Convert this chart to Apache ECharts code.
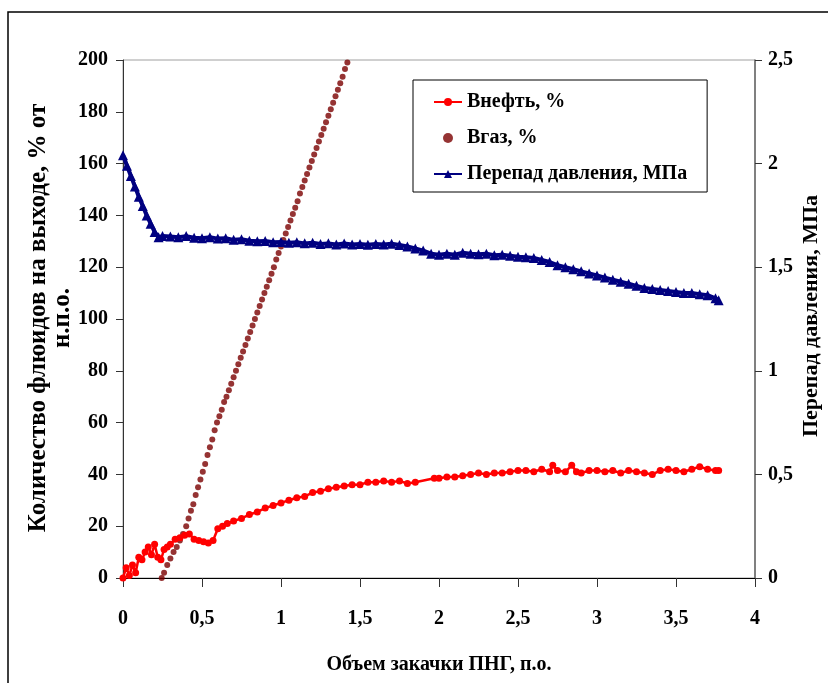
<!DOCTYPE html>
<html>
<head>
<meta charset="utf-8">
<script src="https://cdn.jsdelivr.net/npm/echarts@6/dist/echarts.min.js"></script>
<style>html,body{margin:0;padding:0;background:#fff}#c{width:828px;height:683px}</style>
</head>
<body>
<div id="c"></div>
<script>
// ---- Data ----
const seriesNames = ['Внефть, %', 'Вгаз, %', 'Перепад давления, МПа'];
const xTitle = 'Объем закачки ПНГ, п.о.';
const yLeftTitle = 'Количество флюидов на выходе, % от\nн.п.о.';
const yRightTitle = 'Перепад давления, МПа';

// Внефть, % (x, value)
const oilX = [0,0.02,0.04,0.06,0.08,0.1,0.12,0.14,0.16,0.18,0.2,0.22,0.24,0.26,0.28,0.3,0.33,0.36,0.39,0.42,0.45,0.48,0.51,0.54,0.57,0.6,0.63,0.66,0.7,0.75,0.8,0.85,0.9,0.95,1.0,1.05,1.1,1.15,1.2,1.25,1.3,1.35,1.4,1.45,1.5,1.55,1.6,1.65,1.7,1.75,1.8,1.85,1.97,2.0,2.05,2.1,2.15,2.2,2.25,2.3,2.35,2.4,2.45,2.5,2.55,2.6,2.65,2.7,2.72,2.75,2.8,2.84,2.87,2.9,2.95,3.0,3.05,3.1,3.15,3.2,3.25,3.3,3.35,3.4,3.45,3.5,3.55,3.6,3.65,3.7,3.75,3.77];
const oilY = [0,4,1,5,2,8,7,10,12,9,13,8,7,11,12,13,15,15.5,16.5,17,15,14.5,14,13.5,14.5,19,20,21,22,23,24.5,25.5,27,28,29,30,31,31.5,33,33.5,34.5,35,35.5,36,36,37,37,37.5,37,37.5,36.5,37,38.5,38.5,39,39,39.5,40,40.5,40,40.5,40.5,41,41.5,41.5,41,42,41,43.5,41.5,41,43.5,41,40.5,41.5,41.5,41,41.5,40.5,41.5,41,40.5,40,41.5,42,41.5,41,42,43,42,41.5,41.5];

// Вгаз, % (x, value)
const gasX = [0.245,0.26,0.28,0.3,0.32,0.34,0.36,0.38,0.4,0.415,0.43,0.445,0.46,0.475,0.49,0.505,0.52,0.535,0.55,0.565,0.58,0.595,0.61,0.625,0.64,0.655,0.67,0.685,0.7,0.715,0.73,0.745,0.76,0.775,0.79,0.805,0.82,0.835,0.85,0.865,0.88,0.895,0.91,0.925,0.94,0.955,0.97,0.985,1.0,1.015,1.03,1.045,1.06,1.075,1.09,1.105,1.12,1.135,1.15,1.165,1.18,1.195,1.21,1.225,1.24,1.255,1.27,1.285,1.3,1.315,1.33,1.345,1.36,1.375,1.39,1.405,1.42];
const gasY = [0,2,5,7.5,10,12,14.5,17,20,23,26,28.5,32,35,38,41,44,47.5,50.5,53.5,57,60,62.5,65,68,70,72.5,75,77.5,80,82.5,85,87.5,90,92.5,95,97.5,100,102.5,105,107.5,110,112.5,115,117.5,120,123,125.5,128,130.5,133,135.5,138,140.5,143,145.5,148.5,151,153.5,156,158.5,161,163.5,166,168.5,171,173.5,176,178.5,181,183.5,186,188.5,191,193.5,196.5,199];

// Перепад давления, МПа (x, value)
const dpX = [0,0.025,0.05,0.075,0.1,0.125,0.15,0.175,0.2,0.225,0.25,0.3,0.35,0.4,0.45,0.5,0.55,0.6,0.65,0.7,0.75,0.8,0.85,0.9,0.95,1.0,1.05,1.1,1.15,1.2,1.25,1.3,1.35,1.4,1.45,1.5,1.55,1.6,1.65,1.7,1.75,1.8,1.85,1.9,1.95,2.0,2.05,2.1,2.15,2.2,2.25,2.3,2.35,2.4,2.45,2.5,2.55,2.6,2.65,2.7,2.75,2.8,2.85,2.9,2.95,3.0,3.05,3.1,3.15,3.2,3.25,3.3,3.35,3.4,3.45,3.5,3.55,3.6,3.65,3.7,3.75,3.77];
const dpY = [2.04,1.99,1.94,1.89,1.84,1.795,1.75,1.71,1.67,1.645,1.65,1.648,1.645,1.65,1.642,1.64,1.645,1.638,1.64,1.632,1.635,1.628,1.625,1.627,1.62,1.622,1.618,1.62,1.615,1.618,1.612,1.615,1.61,1.614,1.61,1.612,1.608,1.612,1.61,1.613,1.607,1.6,1.59,1.58,1.565,1.56,1.565,1.56,1.57,1.565,1.562,1.565,1.558,1.56,1.555,1.55,1.548,1.545,1.535,1.525,1.51,1.5,1.49,1.48,1.47,1.46,1.45,1.44,1.43,1.42,1.41,1.4,1.395,1.39,1.385,1.38,1.375,1.375,1.37,1.365,1.35,1.34];

const pair = (xs, ys) => xs.map((x, i) => [x, ys[i]]);
const fmt = v => String(v).replace('.', ',');
const FONT = 'Liberation Serif';
const txt = {fontFamily: FONT, fontWeight: 'bold', fontSize: 20, color: '#000'};

const chart = echarts.init(document.getElementById('c'), null, {renderer: 'canvas'});
chart.setOption({
  animation: false,
  backgroundColor: '#fff',
  graphic: [{
    type: 'rect', shape: {x: 8, y: 12, width: 1000, height: 1000},
    style: {fill: 'none', stroke: '#000', lineWidth: 1.5}, silent: true, z: -1
  }, {
    type: 'text', x: 51, y: 318, rotation: Math.PI / 2, silent: true,
    style: {text: yLeftTitle, fontFamily: FONT, fontWeight: 'bold', fontSize: 25, lineHeight: 24,
            fill: '#000', align: 'center', verticalAlign: 'middle'}
  }, {
    type: 'text', x: 811, y: 316, rotation: Math.PI / 2, silent: true,
    style: {text: yRightTitle, fontFamily: FONT, fontWeight: 'bold', fontSize: 22,
            fill: '#000', align: 'center', verticalAlign: 'middle'}
  }],
  grid: {left: 123, right: 73, top: 60, bottom: 105, show: true, borderColor: '#a0a0a0', borderWidth: 1, backgroundColor: 'transparent'},
  legend: {
    orient: 'vertical', left: 413, top: 80,
    padding: [12, 20, 8, 20], itemGap: 16, itemWidth: 28, itemHeight: 10,
    backgroundColor: '#fff', borderColor: '#000', borderWidth: 1,
    textStyle: Object.assign({}, txt),
    data: seriesNames
  },
  xAxis: {
    type: 'value', min: 0, max: 4, interval: 0.5,
    name: xTitle, nameLocation: 'middle', nameGap: 77, nameTextStyle: Object.assign({}, txt),
    axisLine: {lineStyle: {color: '#000', width: 1}},
    axisTick: {show: true, length: 9, lineStyle: {color: '#333'}},
    axisLabel: Object.assign({margin: 31, formatter: fmt}, txt),
    splitLine: {show: false}
  },
  yAxis: [{
    type: 'value', min: 0, max: 200, interval: 20,
    axisLine: {show: true, lineStyle: {color: '#333', width: 1}},
    axisTick: {show: true, length: 7, lineStyle: {color: '#333'}},
    axisLabel: Object.assign({margin: 15, formatter: fmt}, txt),
    splitLine: {show: false}
  }, {
    type: 'value', min: 0, max: 2.5, interval: 0.5, position: 'right',
    axisLine: {show: true, lineStyle: {color: '#666', width: 1.5}},
    axisTick: {show: true, length: 7, lineStyle: {color: '#333'}},
    axisLabel: Object.assign({margin: 13, formatter: fmt}, txt),
    splitLine: {show: false}
  }],
  series: [{
    name: seriesNames[0], type: 'line', yAxisIndex: 0,
    data: pair(oilX, oilY),
    symbol: 'circle', symbolSize: 7, showAllSymbol: true,
    itemStyle: {color: '#ff0000'}, lineStyle: {color: '#ff0000', width: 2.5}
  }, {
    name: seriesNames[1], type: 'scatter', yAxisIndex: 0,
    data: pair(gasX, gasY),
    symbol: 'circle', symbolSize: 6,
    itemStyle: {color: '#7a0000'}
  }, {
    name: seriesNames[2], type: 'line', yAxisIndex: 1,
    data: pair(dpX, dpY),
    symbol: 'triangle', symbolSize: 10, showAllSymbol: true,
    itemStyle: {color: '#000080'}, lineStyle: {color: '#000080', width: 4}
  }]
});
</script>
</body>
</html>
